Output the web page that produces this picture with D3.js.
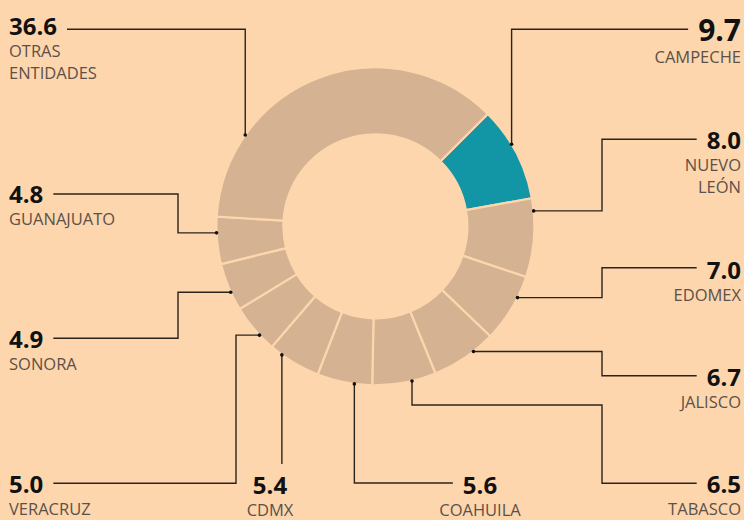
<!DOCTYPE html>
<html>
<head>
<meta charset="utf-8">
<script src="https://cdn.jsdelivr.net/npm/d3@7"></script>
<style>
  html, body { margin: 0; padding: 0; background: #fdd6ad; }
  svg { display: block; }
</style>
</head>
<body>
<svg id="dona"></svg>
<script>
const estados = [
  "CAMPECHE", "NUEVO LEÓN", "EDOMEX", "JALISCO", "TABASCO", "COAHUILA",
  "CDMX", "VERACRUZ", "SONORA", "GUANAJUATO", "OTRAS ENTIDADES"
];
const valores = [9.7, 8.0, 7.0, 6.7, 6.5, 5.6, 5.4, 5.0, 4.9, 4.8, 36.6];
const destacado = "CAMPECHE";

const size = { width: 744, height: 520 };
const center = { x: 375.4, y: 226.3 };
const radius = { inner: 92, outer: 159 };

const BG = "#fdd6ad";
const TAN = "#d4b292";
const TEAL = "#1296a5";
const INK = "#2b241d";

// callout layout, same order as estados
// t: where on the slice the dot sits, dir: first leg, turns: elbow coords
const callouts = [
  { t: 0.40, dir: "v", turns: [29.3], anchor: "end", x: 741, y: 41, big: true },
  { t: 0.16, dir: "h", turns: [602, 139.3], anchor: "end", x: 741, y: 149 },
  { t: 0.32, dir: "h", turns: [602, 267.7], anchor: "end", x: 741, y: 279 },
  { t: 0.34, dir: "h", turns: [602, 375.7], anchor: "end", x: 741, y: 386 },
  { t: 0.38, dir: "v", turns: [405, 602, 483.3], anchor: "end", x: 741, y: 493 },
  { t: 0.32, dir: "v", turns: [483], anchor: "middle", x: 480, y: 494 },
  { t: 0.76, dir: "v", turns: [464], anchor: "middle", x: 270, y: 494, noTail: true },
  { t: 0.34, dir: "h", turns: [236, 483.3], anchor: "start", x: 9, y: 493 },
  { t: 0.39, dir: "h", turns: [178, 338.3], anchor: "start", x: 9, y: 348 },
  { t: 0.66, dir: "h", turns: [178, 194], anchor: "start", x: 9, y: 203 },
  { t: 0.24, dir: "v", turns: [29.3], anchor: "start", x: 9, y: 35 }
];

const data = estados.map((name, i) => ({ name, value: valores[i] }));

const svg = d3
  .select("#dona")
  .attr("width", size.width)
  .attr("height", size.height)
  .style("font-family", "'Open Sans', 'Noto Sans', sans-serif");

svg
  .append("rect")
  .attr("width", size.width)
  .attr("height", size.height)
  .attr("fill", BG);

const pie = d3
  .pie()
  .sort(null)
  .value((d) => d.value)
  .startAngle(Math.PI / 4)
  .endAngle(Math.PI / 4 + 2 * Math.PI);

const arcs = pie(data);

const arc = d3.arc().innerRadius(radius.inner).outerRadius(radius.outer);

svg
  .append("g")
  .attr("transform", `translate(${center.x},${center.y})`)
  .selectAll("path")
  .data(arcs)
  .join("path")
  .attr("d", arc)
  .attr("fill", (d) => (d.data.name === destacado ? TEAL : TAN))
  .attr("stroke", BG)
  .attr("stroke-width", 2.2);

const fmt = d3.format(".1f");
const labels = svg.append("g");
const leaders = svg.append("g");

arcs.forEach((d, i) => {
  const c = callouts[i];
  const a = d.startAngle + c.t * (d.endAngle - d.startAngle);
  const dot = [
    center.x + radius.outer * Math.sin(a),
    center.y - radius.outer * Math.cos(a)
  ];

  const g = labels.append("g").attr("text-anchor", c.anchor);
  const num = g
    .append("text")
    .attr("x", c.x)
    .attr("y", c.y)
    .attr("fill", "#111")
    .attr("font-weight", 700)
    .attr("font-size", c.big ? 30 : 24)
    .text(fmt(d.data.value));

  d.data.name.split(" ").forEach((w, j) => {
    g.append("text")
      .attr("x", c.x)
      .attr("y", c.y + 22 + j * 21.5)
      .attr("fill", "#5b5149")
      .attr("font-weight", 400)
      .attr("font-size", 16.5)
      .text(w);
  });

  // build the elbow route
  const pts = [dot];
  let [px, py] = dot;
  let dir = c.dir;
  c.turns.forEach((v) => {
    if (dir === "v") py = v;
    else px = v;
    pts.push([px, py]);
    dir = dir === "v" ? "h" : "v";
  });
  if (!c.noTail) {
    const box = num.node().getBBox();
    const endX = px < box.x ? box.x - 10 : box.x + box.width + 10;
    pts.push([endX, py]);
  }

  leaders
    .append("path")
    .attr("d", d3.line()(pts))
    .attr("fill", "none")
    .attr("stroke", INK)
    .attr("stroke-width", 1.4);

  leaders
    .append("circle")
    .attr("cx", dot[0])
    .attr("cy", dot[1])
    .attr("r", 1.8)
    .attr("fill", "#111");
});
</script>
</body>
</html>
